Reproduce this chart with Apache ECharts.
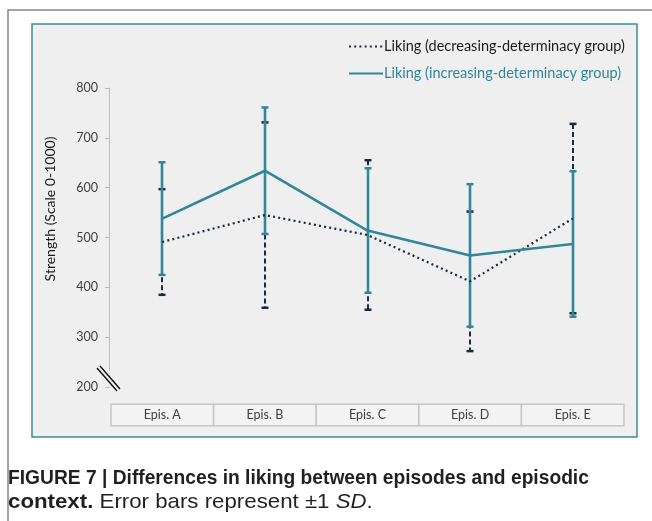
<!DOCTYPE html>
<html>
<head>
<meta charset="utf-8">
<script src="https://cdn.jsdelivr.net/npm/echarts@6/dist/echarts.min.js"></script>
<style>
  html, body { margin: 0; padding: 0; background: #ffffff; }
  #chart { width: 652px; height: 521px; }
</style>
</head>
<body>
<div id="chart"></div>
<script>
// Episodes on the category axis
const episodes = ['Epis. A', 'Epis. B', 'Epis. C', 'Epis. D', 'Epis. E'];

// Mean liking and standard deviation per episode, decreasing-determinacy group
const decreasingMean = [491, 545, 505, 412, 538];
const decreasingSD   = [106, 186, 150, 140, 190];

// Mean liking and standard deviation per episode, increasing-determinacy group
const increasingMean = [538, 634, 514, 464, 487];
const increasingSD   = [113, 127, 125, 143, 146];

// Value-axis ticks
const yTicks = [200, 300, 400, 500, 600, 700, 800];

const TEAL = '#31879a';
const NAVY = '#1b2a3f';
const FONT = 'Lato, "Open Sans", sans-serif';
const CAPTION_FONT = '"Liberation Sans", Arial, sans-serif';

function errorData(mean, sd) {
  return mean.map((m, i) => [i, m - sd[i], m + sd[i]]);
}

// Vertical ±SD bar with short caps; the stem is snapped to a whole pixel so
// the narrower dashed bar hides cleanly behind the solid one.
function errorBarRenderer(color, dashed, width, layer) {
  return function (params, api) {
    const x = api.value(0);
    const lo = api.coord([x, api.value(1)]);
    const hi = api.coord([x, api.value(2)]);
    const px = Math.round(hi[0]);
    const half = 3.5;
    const stem = { stroke: color, lineWidth: width, fill: null };
    if (dashed) stem.lineDash = [5, 3];
    const cap = { stroke: color, lineWidth: 2.5, fill: null };
    return {
      type: 'group',
      children: [
        { type: 'line', z2: layer, shape: { x1: px, y1: hi[1], x2: px, y2: lo[1] }, style: stem },
        { type: 'line', z2: layer, shape: { x1: px - half, y1: hi[1], x2: px + half, y2: hi[1] }, style: cap },
        { type: 'line', z2: layer, shape: { x1: px - half, y1: lo[1], x2: px + half, y2: lo[1] }, style: cap }
      ]
    };
  };
}

const chart = echarts.init(document.getElementById('chart'), null, { renderer: 'canvas' });

const frameGraphics = [
  // page border
  { type: 'polyline', z: -10, shape: { points: [[8, 521], [8, 10], [652, 10]] },
    style: { stroke: '#858585', lineWidth: 1.5, fill: null } },
  // chart frame
  { type: 'rect', z: -9, shape: { x: 32, y: 24, width: 605, height: 413 },
    style: { fill: '#efefef', stroke: '#3b8c9c', lineWidth: 1.5 } },
  // caption, first line (set a little condensed)
  { type: 'text', x: 8, y: 478, scaleX: 0.915,
    style: { text: 'FIGURE 7 | Differences in liking between episodes and episodic',
             x: 0, y: 0, align: 'left', verticalAlign: 'middle',
             font: 'bold 21px ' + CAPTION_FONT, fill: '#231f20' } },
  // caption, second line (set a little wide)
  { type: 'text', x: 8, y: 502, scaleX: 1.06,
    style: {
      text: '{b|context.}{r| Error bars represent ±1 }{i|SD}{r|.}',
      x: 0, y: 0, align: 'left', verticalAlign: 'middle',
      rich: {
        b: { font: 'bold 21px ' + CAPTION_FONT, fill: '#231f20' },
        r: { font: '21px ' + CAPTION_FONT, fill: '#231f20' },
        i: { font: 'italic 21px ' + CAPTION_FONT, fill: '#231f20' }
      }
    } }
];

const option = {
  backgroundColor: '#ffffff',
  animation: false,
  graphic: frameGraphics,
  legend: {
    orient: 'vertical',
    left: 343,
    top: 34,
    itemWidth: 34,
    itemHeight: 14,
    itemGap: 12,
    align: 'left',
    itemStyle: { opacity: 0 },
    textStyle: { fontFamily: FONT, fontSize: 14.5, padding: [0, 0, 0, -4] },
    data: [
      { name: 'Liking (decreasing-determinacy group)', textStyle: { color: '#1a1a1a' } },
      { name: 'Liking (increasing-determinacy group)', textStyle: { color: TEAL } }
    ]
  },
  grid: { left: 111, right: 28, top: 88, bottom: 134 },
  xAxis: {
    type: 'category',
    data: episodes,
    boundaryGap: true,
    axisLine: { show: false },
    axisTick: { show: false },
    axisLabel: {
      interval: 0,
      hideOverlap: false,
      margin: 18,
      width: 101,
      height: 20,
      lineHeight: 20,
      align: 'center',
      color: '#404040',
      fontFamily: FONT,
      fontSize: 12.5,
      backgroundColor: '#f3f3f3',
      borderColor: '#c6c6c6',
      borderWidth: 1.5
    }
  },
  yAxis: {
    type: 'value',
    min: yTicks[0],
    max: yTicks[yTicks.length - 1],
    interval: 100,
    offset: 2,
    name: 'Strength (Scale 0-1000)',
    nameLocation: 'middle',
    nameGap: 52,
    nameTextStyle: { fontFamily: FONT, fontSize: 14, color: '#1a1a1a', padding: [0, 0, 0, 57] },
    splitLine: { show: false },
    axisLine: { show: true, lineStyle: { color: '#bdbdbd', width: 1 } },
    axisTick: { show: true, length: 4, lineStyle: { color: '#bdbdbd' } },
    axisLabel: { margin: 11, color: '#404040', fontFamily: FONT, fontSize: 12.5 }
  },
  series: [
    {
      name: 'decreasing SD',
      type: 'custom',
      renderItem: errorBarRenderer(NAVY, true, 2, 0),
      data: errorData(decreasingMean, decreasingSD),
      encode: { x: 0, y: [1, 2] },
      z: 1,
      silent: true
    },
    {
      name: 'increasing SD',
      type: 'custom',
      renderItem: errorBarRenderer(TEAL, false, 2.6, 10),
      data: errorData(increasingMean, increasingSD),
      encode: { x: 0, y: [1, 2] },
      z: 10,
      silent: true
    },
    {
      name: 'Liking (decreasing-determinacy group)',
      type: 'line',
      data: decreasingMean,
      symbol: 'none',
      z: 20,
      lineStyle: { color: NAVY, width: 2.2, type: [2, 3.2] },
      itemStyle: { color: NAVY }
    },
    {
      name: 'Liking (increasing-determinacy group)',
      type: 'line',
      data: increasingMean,
      symbol: 'none',
      z: 21,
      lineStyle: { color: TEAL, width: 2.6 },
      itemStyle: { color: TEAL }
    }
  ]
};

chart.setOption(option);

// axis-break marks drawn just above the 200 tick of the value axis
const base = chart.convertToPixel({ gridIndex: 0 }, [0, yTicks[0]]);
const axisX = chart.getModel().getComponent('grid').coordinateSystem.getRect().x - 2;
const cy = base[1] - 7;
chart.setOption({
  graphic: frameGraphics.concat([
    { type: 'rect', z: 30, shape: { x: axisX - 4, y: cy - 9, width: 8, height: 16 }, style: { fill: '#efefef' } },
    { type: 'line', z: 31, shape: { x1: axisX - 12, y1: cy - 12, x2: axisX + 8, y2: cy + 11 },
      style: { stroke: '#111', lineWidth: 1.4 } },
    { type: 'line', z: 31, shape: { x1: axisX - 9, y1: cy - 14, x2: axisX + 11, y2: cy + 9 },
      style: { stroke: '#111', lineWidth: 1.4 } }
  ])
});
</script>
</body>
</html>
